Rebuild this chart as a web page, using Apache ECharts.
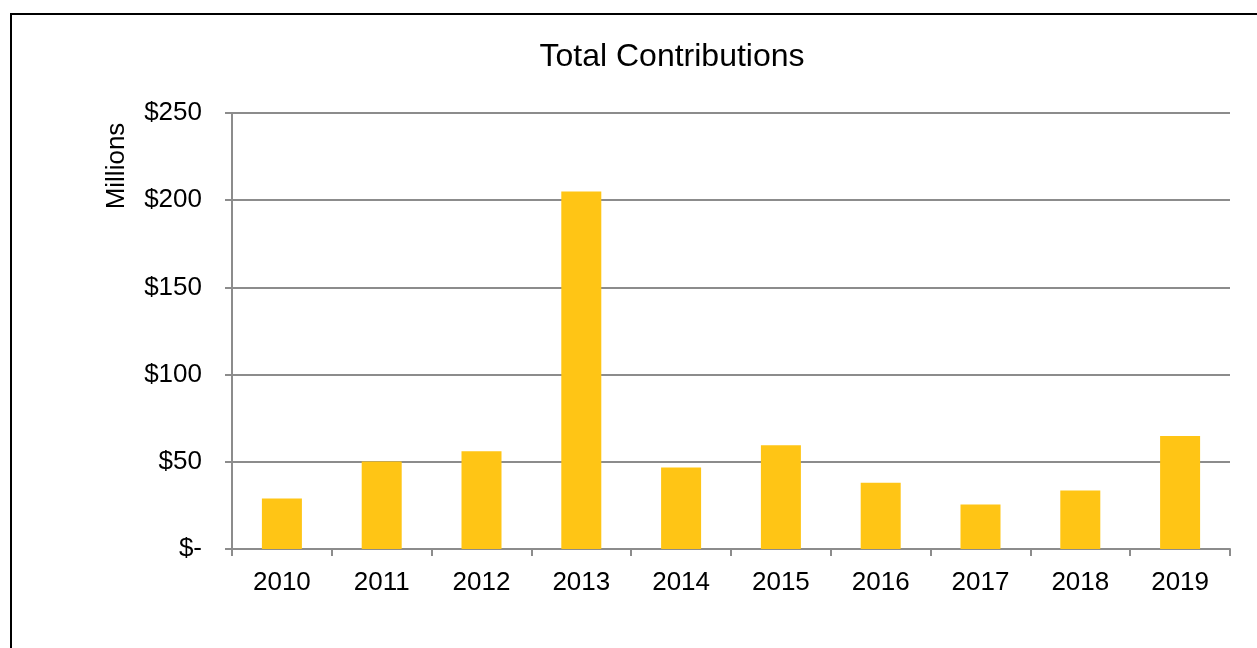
<!DOCTYPE html>
<html>
<head>
<meta charset="utf-8">
<script src="https://cdn.jsdelivr.net/npm/echarts@6/dist/echarts.min.js"></script>
<style>
  html, body { margin: 0; padding: 0; background: #fff; }
  #chart { width: 1257px; height: 648px; }
</style>
</head>
<body>
<div id="chart"></div>
<script>
// Yearly totals, in millions of dollars
const years = ['2010', '2011', '2012', '2013', '2014', '2015', '2016', '2017', '2018', '2019'];
const contributions = [29, 50.2, 56, 205, 46.8, 59.5, 38, 25.5, 33.5, 64.8];
const yTicks = [0, 50, 100, 150, 200, 250];

const FONT = 'Liberation Sans, Arial, sans-serif';
const GRID_GREY = '#8c8c8c';

const chart = echarts.init(document.getElementById('chart'), null, { renderer: 'canvas' });

chart.setOption({
  animation: false,
  backgroundColor: '#ffffff',
  graphic: [
    {
      type: 'rect',
      shape: { x: 11, y: 14, width: 1320, height: 700 },
      style: { fill: 'none', stroke: '#000', lineWidth: 2 },
      silent: true,
      z: 100
    },
    {
      type: 'text',
      style: {
        text: 'Total Contributions',
        x: 672, y: 57,
        textAlign: 'center', textVerticalAlign: 'middle',
        font: '32px ' + FONT,
        fill: '#000'
      }
    },
    {
      type: 'text',
      rotation: Math.PI / 2,
      x: 117, y: 166,
      style: {
        text: 'Millions',
        x: 0, y: 0,
        textAlign: 'center', textVerticalAlign: 'middle',
        font: '26px ' + FONT,
        fill: '#000'
      }
    }
  ],
  grid: { left: 232, right: 27, top: 113, bottom: 99, containLabel: false },
  xAxis: {
    type: 'category',
    data: years,
    boundaryGap: true,
    axisLine: { show: true, lineStyle: { color: GRID_GREY, width: 2 } },
    axisTick: { show: true, length: 7, alignWithLabel: false, lineStyle: { color: GRID_GREY, width: 2 } },
    axisLabel: { color: '#000', fontFamily: FONT, fontSize: 26, margin: 21 }
  },
  yAxis: {
    type: 'value',
    min: yTicks[0],
    max: yTicks[yTicks.length - 1],
    interval: 50,
    axisLine: { show: true, lineStyle: { color: GRID_GREY, width: 2 } },
    axisTick: { show: true, length: 7, lineStyle: { color: GRID_GREY, width: 2 } },
    splitLine: { show: true, lineStyle: { color: GRID_GREY, width: 2 } },
    axisLabel: {
      color: '#000', fontFamily: FONT, fontSize: 26, margin: 30,
      padding: [4, 0, 0, 0],
      formatter: v => (v === 0 ? '$-' : '$' + v)
    }
  },
  series: [{
    type: 'bar',
    data: contributions,
    barWidth: 40,
    itemStyle: { color: '#FFC515' },
    z: 3
  }]
});
</script>
</body>
</html>
